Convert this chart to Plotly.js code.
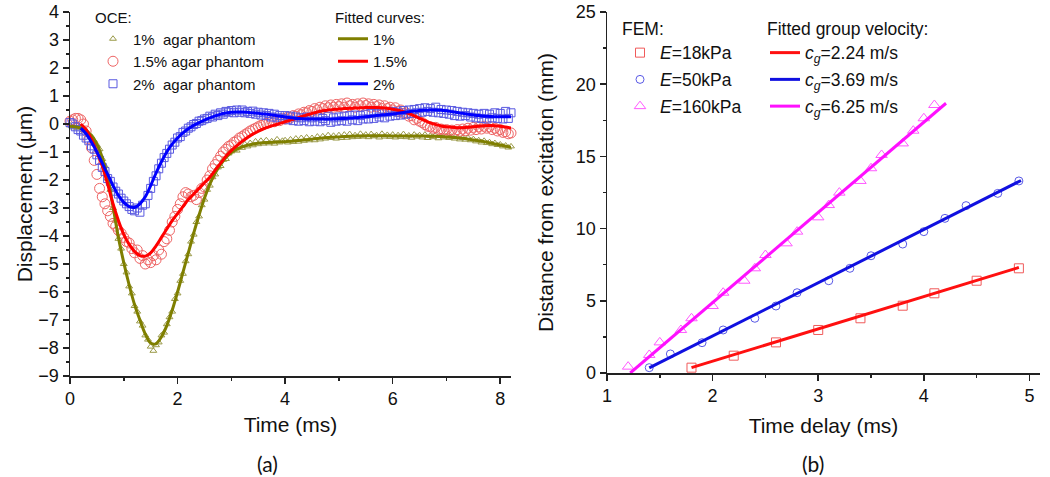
<!DOCTYPE html>
<html>
<head>
<meta charset="utf-8">
<script src="https://cdn.plot.ly/plotly-3.0.1.min.js"></script>
<style>
html,body{margin:0;padding:0;background:#fff;}
#chart{width:1050px;height:477px;}
</style>
</head>
<body>
<div id="chart"></div>
<script>
// ---------- Panel (a): OCE displacement ----------
const tData = [
0,0.05,0.1,0.15,0.2,0.25,0.3,0.35,0.4,0.45,
0.5,0.55,0.6,0.65,0.7,0.75,0.8,0.85,0.9,0.95,
1,1.05,1.1,1.15,1.2,1.25,1.3,1.35,1.4,1.45,
1.5,1.55,1.6,1.65,1.7,1.75,1.8,1.85,1.9,1.95,
2,2.05,2.1,2.15,2.2,2.25,2.3,2.35,2.4,2.45,
2.5,2.55,2.6,2.65,2.7,2.75,2.8,2.85,2.9,2.95,
3,3.05,3.1,3.15,3.2,3.25,3.3,3.35,3.4,3.45,
3.5,3.55,3.6,3.65,3.7,3.75,3.8,3.85,3.9,3.95,
4,4.05,4.1,4.15,4.2,4.25,4.3,4.35,4.4,4.45,
4.5,4.55,4.6,4.65,4.7,4.75,4.8,4.85,4.9,4.95,
5,5.05,5.1,5.15,5.2,5.25,5.3,5.35,5.4,5.45,
5.5,5.55,5.6,5.65,5.7,5.75,5.8,5.85,5.9,5.95,
6,6.05,6.1,6.15,6.2,6.25,6.3,6.35,6.4,6.45,
6.5,6.55,6.6,6.65,6.7,6.75,6.8,6.85,6.9,6.95,
7,7.05,7.1,7.15,7.2,7.25,7.3,7.35,7.4,7.45,
7.5,7.55,7.6,7.65,7.7,7.75,7.8,7.85,7.9,7.95,
8,8.05,8.1,8.15,8.2];

const oce1 = [
-0.05,-0.12,-0.08,-0.15,-0.11,-0.22,-0.24,-0.38,-0.45,-0.6,
-0.75,-0.9,-1.25,-1.5,-1.95,-2.35,-3.0,-3.45,-4.1,-4.45,
-5.0,-5.3,-5.8,-6.05,-6.5,-6.7,-7.05,-7.2,-7.55,-7.7,
-7.95,-8.1,-7.9,-7.8,-7.55,-7.45,-7.15,-6.9,-6.7,-6.25,
-6.05,-5.6,-5.35,-4.9,-4.65,-4.2,-3.95,-3.5,-3.3,-2.9,
-2.7,-2.35,-2.2,-1.9,-1.8,-1.55,-1.5,-1.28,-1.25,-1.05,
-0.98,-0.92,-0.95,-0.8,-0.85,-0.72,-0.8,-0.68,-0.76,-0.62,
-0.72,-0.6,-0.7,-0.58,-0.69,-0.62,-0.7,-0.55,-0.66,-0.6,
-0.58,-0.66,-0.55,-0.64,-0.52,-0.63,-0.5,-0.6,-0.48,-0.58,
-0.5,-0.58,-0.45,-0.55,-0.44,-0.52,-0.4,-0.5,-0.42,-0.52,
-0.4,-0.5,-0.38,-0.49,-0.36,-0.47,-0.4,-0.46,-0.35,-0.45,
-0.38,-0.47,-0.36,-0.44,-0.4,-0.48,-0.35,-0.45,-0.39,-0.46,
-0.38,-0.48,-0.4,-0.46,-0.36,-0.47,-0.41,-0.49,-0.38,-0.45,
-0.4,-0.48,-0.38,-0.5,-0.42,-0.47,-0.39,-0.51,-0.43,-0.48,
-0.43,-0.5,-0.45,-0.52,-0.47,-0.55,-0.49,-0.56,-0.5,-0.58,
-0.54,-0.62,-0.58,-0.66,-0.6,-0.68,-0.65,-0.72,-0.68,-0.75,
-0.73,-0.8,-0.77,-0.84,-0.8];

const oce15 = [
0.1,0.15,0.2,0.2,0.15,0.0,-0.25,-0.55,-0.85,-1.3,
-1.8,-2.3,-2.6,-2.85,-3.1,-3.3,-3.55,-3.65,-3.8,-3.9,
-4.05,-4.2,-4.25,-4.45,-4.6,-4.5,-4.8,-4.7,-5.0,-4.85,
-4.95,-4.7,-4.85,-4.5,-4.65,-4.2,-4.1,-3.8,-3.5,-3.3,
-3.05,-2.85,-2.6,-2.45,-2.5,-2.6,-2.55,-2.7,-2.45,-2.3,
-2.25,-2.0,-1.85,-1.6,-1.45,-1.3,-1.15,-1.0,-0.9,-0.8,
-0.75,-0.65,-0.6,-0.5,-0.45,-0.38,-0.32,-0.25,-0.2,-0.15,
-0.1,-0.05,-0.02,0.02,0.05,0.1,0.08,0.15,0.12,0.2,
0.18,0.25,0.22,0.3,0.28,0.36,0.33,0.42,0.4,0.48,
0.45,0.55,0.5,0.6,0.55,0.65,0.58,0.68,0.6,0.7,
0.62,0.72,0.6,0.75,0.65,0.7,0.6,0.72,0.65,0.75,
0.66,0.72,0.6,0.7,0.62,0.68,0.55,0.65,0.55,0.6,
0.5,0.58,0.45,0.5,0.38,0.4,0.28,0.3,0.15,0.2,
0.1,0.05,-0.02,-0.08,-0.1,-0.15,-0.12,-0.2,-0.18,-0.22,
-0.2,-0.25,-0.22,-0.28,-0.2,-0.26,-0.18,-0.24,-0.15,-0.22,
-0.12,-0.2,-0.1,-0.18,-0.08,-0.15,-0.1,-0.2,-0.15,-0.25,
-0.2,-0.3,-0.28,-0.35,-0.32];

const oce2 = [
0.05,0.0,-0.1,-0.2,-0.25,-0.4,-0.5,-0.6,-0.78,-0.9,
-1.1,-1.3,-1.55,-1.7,-1.95,-2.05,-2.25,-2.4,-2.5,-2.65,
-2.75,-2.85,-2.95,-3.05,-3.1,-3.0,-3.15,-2.9,-2.85,-2.55,
-2.3,-2.05,-1.85,-1.6,-1.4,-1.2,-1.05,-0.9,-0.75,-0.65,
-0.5,-0.45,-0.3,-0.25,-0.15,-0.1,-0.02,0.02,0.1,0.12,
0.18,0.2,0.28,0.25,0.35,0.3,0.4,0.35,0.45,0.42,
0.48,0.4,0.5,0.42,0.5,0.4,0.45,0.38,0.46,0.35,
0.42,0.32,0.4,0.3,0.38,0.25,0.35,0.22,0.3,0.2,
0.3,0.15,0.28,0.12,0.25,0.1,0.22,0.12,0.25,0.08,
0.22,0.1,0.25,0.08,0.2,0.12,0.28,0.06,0.22,0.1,
0.25,0.12,0.28,0.1,0.3,0.15,0.32,0.12,0.3,0.18,
0.35,0.18,0.38,0.2,0.36,0.25,0.4,0.22,0.42,0.28,
0.45,0.3,0.42,0.32,0.48,0.35,0.5,0.38,0.52,0.4,
0.55,0.42,0.58,0.45,0.55,0.42,0.6,0.4,0.52,0.38,
0.5,0.35,0.48,0.3,0.45,0.28,0.42,0.3,0.4,0.25,
0.38,0.22,0.35,0.2,0.38,0.18,0.35,0.22,0.4,0.2,
0.38,0.18,0.45,0.2,0.4];

const tFit = [
0,0.1,0.2,0.3,0.4,0.5,0.6,0.7,0.8,0.9,
1,1.1,1.2,1.3,1.4,1.5,1.6,1.7,1.8,1.9,
2,2.1,2.2,2.3,2.4,2.5,2.6,2.7,2.8,2.9,
3,3.1,3.2,3.3,3.4,3.5,3.6,3.7,3.8,3.9,
4,4.1,4.2,4.3,4.4,4.5,4.6,4.7,4.8,4.9,
5,5.1,5.2,5.3,5.4,5.5,5.6,5.7,5.8,5.9,
6,6.1,6.2,6.3,6.4,6.5,6.6,6.7,6.8,6.9,
7,7.1,7.2,7.3,7.4,7.5,7.6,7.7,7.8,7.9,
8,8.1,8.2];

const fit1 = [
-0.08,-0.1,-0.14,-0.25,-0.42,-0.72,-1.2,-1.9,-2.95,-4.05,
-4.95,-5.75,-6.45,-7.0,-7.5,-7.82,-7.85,-7.6,-7.2,-6.65,
-6.0,-5.3,-4.6,-3.9,-3.25,-2.65,-2.15,-1.75,-1.45,-1.2,
-1.02,-0.9,-0.82,-0.76,-0.72,-0.69,-0.67,-0.66,-0.65,-0.64,
-0.63,-0.62,-0.6,-0.58,-0.56,-0.54,-0.52,-0.5,-0.48,-0.47,
-0.46,-0.45,-0.44,-0.43,-0.43,-0.42,-0.42,-0.42,-0.42,-0.42,
-0.43,-0.43,-0.43,-0.43,-0.43,-0.43,-0.43,-0.44,-0.44,-0.45,
-0.46,-0.47,-0.49,-0.51,-0.54,-0.57,-0.6,-0.63,-0.67,-0.71,
-0.75,-0.79,-0.83];

const fit15 = [
null,null,0.0,-0.2,-0.55,-1.0,-1.5,-2.15,-2.85,-3.45,
-3.95,-4.3,-4.55,-4.7,-4.72,-4.6,-4.35,-4.05,-3.75,-3.45,
-3.2,-2.95,-2.7,-2.5,-2.3,-2.1,-1.9,-1.65,-1.4,-1.15,
-0.95,-0.78,-0.62,-0.48,-0.36,-0.26,-0.17,-0.1,-0.04,0.02,
0.08,0.14,0.2,0.26,0.32,0.38,0.43,0.47,0.5,0.52,
0.54,0.55,0.56,0.57,0.58,0.59,0.59,0.59,0.58,0.56,
0.53,0.49,0.44,0.37,0.29,0.2,0.12,0.04,-0.02,-0.07,
-0.1,-0.12,-0.13,-0.13,-0.12,-0.1,-0.08,-0.06,-0.05,-0.06,
-0.08,-0.11,-0.14];

const fit2 = [
null,null,-0.15,-0.35,-0.65,-1.0,-1.4,-1.8,-2.2,-2.55,
-2.8,-2.95,-2.98,-2.85,-2.6,-2.2,-1.75,-1.35,-1.0,-0.72,
-0.5,-0.32,-0.17,-0.05,0.05,0.14,0.22,0.29,0.35,0.39,
0.42,0.43,0.43,0.42,0.4,0.38,0.36,0.34,0.31,0.28,
0.25,0.22,0.2,0.19,0.18,0.18,0.18,0.18,0.18,0.18,
0.19,0.2,0.21,0.22,0.24,0.26,0.28,0.3,0.32,0.34,
0.36,0.38,0.41,0.44,0.46,0.48,0.49,0.5,0.5,0.49,
0.47,0.44,0.41,0.38,0.35,0.32,0.3,0.28,0.27,0.26,
0.26,0.26,0.26];

const oceNames = ['1%\u00a0\u00a0agar phantom', '1.5% agar phantom', '2%\u00a0\u00a0agar phantom'];
const fitNames = ['1%', '1.5%', '2%'];

// ---------- Panel (b): FEM distance vs time delay ----------
const t18 = [1.8,2.2,2.6,3.0,3.4,3.8,4.1,4.5,4.9];
const d18 = [0.37,1.2,2.12,2.98,3.79,4.66,5.52,6.39,7.25];
const t50 = [1.4,1.6,1.9,2.1,2.4,2.6,2.8,3.1,3.3,3.5,3.8,4.0,4.2,4.4,4.7,4.9];
const d50 = [0.37,1.32,2.1,2.98,3.79,4.64,5.56,6.39,7.25,8.12,8.93,9.79,10.71,11.59,12.44,13.3];
const t160 = [1.2,1.4,1.5,1.7,1.8,2.0,2.1,2.3,2.4,2.5,2.7,2.8,3.0,3.1,3.2,3.4,3.5,3.6,3.8,3.9,4.0,4.1];
const d160 = [0.44,1.25,2.12,2.98,3.79,4.64,5.56,6.39,7.25,8.17,8.98,9.79,10.78,11.63,12.49,13.3,14.18,15.1,15.9,16.78,17.64,18.56];

const fitT18 = [1.8,4.9],  fitD18 = [0.37,7.31];
const fitT50 = [1.4,4.92], fitD50 = [0.35,13.33];
const fitT160 = [1.22,4.21], fitD160 = [0,18.68];

const femNames = ['<i>E</i>=18kPa', '<i>E</i>=50kPa', '<i>E</i>=160kPa'];
const velNames = ['<i>c<sub>g</sub></i>=2.24 m/s', '<i>c<sub>g</sub></i>=3.69 m/s', '<i>c<sub>g</sub></i>=6.25 m/s'];

// ---------- traces ----------
function mk(x, y, name, sym, size, color, xa, ya, leg, grp) {
  return {x, y, name, type:'scatter', mode:'markers', xaxis:xa, yaxis:ya, legend:leg, legendgroup:grp,
    cliponaxis:false,
    marker:{symbol:sym, size, color, line:{color, width:1}}};
}
function ln(x, y, name, color, xa, ya, leg, grp, spline) {
  return {x, y, name, type:'scatter', mode:'lines', xaxis:xa, yaxis:ya, legend:leg, legendgroup:grp,
    line:{color, width:3, shape: spline ? 'spline' : 'linear'}};
}

const traces = [
  mk(tData, oce1, oceNames[0], 'triangle-up-open', 6, '#9a9a48', 'x', 'y', 'legend', 'a1'),
  mk(tData, oce15, oceNames[1], 'circle-open', 10, '#ee6464', 'x', 'y', 'legend', 'a2'),
  mk(tData, oce2, oceNames[2], 'square-open', 8, '#5858e0', 'x', 'y', 'legend', 'a3'),
  ln(tFit, fit1, fitNames[0], '#7f7f00', 'x', 'y', 'legend2', 'b1', true),
  ln(tFit, fit15, fitNames[1], '#ff0000', 'x', 'y', 'legend2', 'b2', true),
  ln(tFit, fit2, fitNames[2], '#0000ff', 'x', 'y', 'legend2', 'b3', true),
  mk(t18, d18, femNames[0], 'square-open', 9, '#f05a5a', 'x2', 'y2', 'legend3', 'c1'),
  mk(t50, d50, femNames[1], 'circle-open', 8, '#5a5ae6', 'x2', 'y2', 'legend3', 'c2'),
  mk(t160, d160, femNames[2], 'triangle-up-open', 10, '#ff5aff', 'x2', 'y2', 'legend3', 'c3'),
  ln(fitT18, fitD18, velNames[0], '#ff1010', 'x2', 'y2', 'legend4', 'd1', false),
  ln(fitT50, fitD50, velNames[1], '#1010e0', 'x2', 'y2', 'legend4', 'd2', false),
  ln(fitT160, fitD160, velNames[2], '#ff10ff', 'x2', 'y2', 'legend4', 'd3', false)
];

const W = 1050, H = 477;
const axisCommon = {
  showgrid:false, zeroline:false, showline:true, linecolor:'#222', linewidth:1.5,
  ticks:'outside', ticklen:6, tickwidth:1.5, tickcolor:'#222',
  tickfont:{size:18, color:'#111'}, mirror:false, fixedrange:true
};
const minorCommon = {ticks:'outside', ticklen:3, tickwidth:1.5, tickcolor:'#222'};
const legCommon = {bgcolor:'rgba(0,0,0,0)', borderwidth:0, xanchor:'left', yanchor:'top',
  tracegroupgap:0, itemclick:false, itemdoubleclick:false};

const layout = {
  width:W, height:H,
  margin:{l:0, r:0, t:0, b:0},
  paper_bgcolor:'#fff', plot_bgcolor:'#fff',
  font:{family:'"Liberation Sans", Arial, sans-serif', color:'#111', size:16},
  showlegend:true,
  xaxis:Object.assign({}, axisCommon, {
    domain:[70/W, 511/W], range:[0, 8.2], tick0:0, dtick:2, anchor:'y',
    minor:Object.assign({dtick:1}, minorCommon),
    title:{text:'Time (ms)', font:{size:21}, standoff:9}
  }),
  yaxis:Object.assign({}, axisCommon, {
    domain:[1-376/H, 1-12/H], range:[-9, 4], tick0:0, dtick:1, anchor:'x',
    minor:Object.assign({dtick:0.5}, minorCommon),
    title:{text:'Displacement (\u03bcm)', font:{size:21}, standoff:0}
  }),
  xaxis2:Object.assign({}, axisCommon, {
    domain:[607/W, 1040/W], range:[1, 5.1], tick0:1, dtick:1, anchor:'y2',
    minor:Object.assign({dtick:0.5}, minorCommon),
    title:{text:'Time delay (ms)', font:{size:21}, standoff:13}
  }),
  yaxis2:Object.assign({}, axisCommon, {
    domain:[1-373/H, 1-12/H], range:[0, 25], tick0:0, dtick:5, anchor:'x2',
    minor:Object.assign({dtick:2.5}, minorCommon),
    title:{text:'Distance from excitation (mm)', font:{size:21}, standoff:16}
  }),
  legend:Object.assign({}, legCommon, {x:93/W, y:1-3/H, font:{size:15},
    title:{text:'OCE:', font:{size:15}}}),
  legend2:Object.assign({}, legCommon, {x:333/W, y:1-3/H, font:{size:15},
    title:{text:'Fitted curves:', font:{size:15}}}),
  legend3:Object.assign({}, legCommon, {x:620/W, y:1-12/H, font:{size:17.5},
    title:{text:'FEM:', font:{size:17.5}}, tracegroupgap:1}),
  legend4:Object.assign({}, legCommon, {x:765/W, y:1-12/H, font:{size:17.5},
    title:{text:'Fitted group velocity:', font:{size:17.5}}, tracegroupgap:1}),
  annotations:[
    {text:'(a)', xref:'paper', yref:'paper', x:267/W, y:1-463/H, xanchor:'center', yanchor:'middle', showarrow:false,
     font:{family:'Lato, "Open Sans", sans-serif', size:21, color:'#111'}},
    {text:'(b)', xref:'paper', yref:'paper', x:813/W, y:1-463/H, xanchor:'center', yanchor:'middle', showarrow:false,
     font:{family:'Lato, "Open Sans", sans-serif', size:21, color:'#111'}}
  ]
};

Plotly.newPlot('chart', traces, layout, {staticPlot:true, displayModeBar:false});
</script>
</body>
</html>
